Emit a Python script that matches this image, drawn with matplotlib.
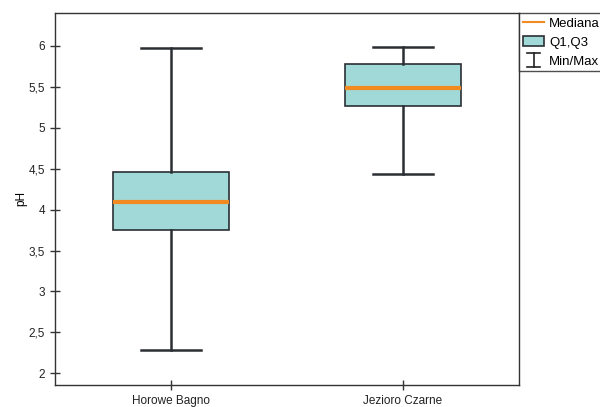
import matplotlib
matplotlib.use("Agg")
import matplotlib.pyplot as plt
from matplotlib.lines import Line2D
from matplotlib.patches import Patch
from matplotlib.legend_handler import HandlerBase
from matplotlib.ticker import FuncFormatter

plt.rcParams["font.family"] = ["Liberation Sans", "DejaVu Sans"]

# per-site pH summaries
sites = ["Horowe Bagno", "Jezioro Czarne"]
ph_min = [2.29, 4.43]
ph_q1 = [3.75, 5.27]
ph_median = [4.09, 5.49]
ph_q3 = [4.46, 5.78]
ph_max = [5.97, 5.99]

yticks = [2, 2.5, 3, 3.5, 4, 4.5, 5, 5.5, 6]

BOX_FILL = "#a0d9d7"
EDGE = "#2b2f33"
ORANGE = "#f28a22"


class MinMaxHandler(HandlerBase):
    """Legend key: vertical bar with a cap at each end."""

    def create_artists(self, legend, orig_handle, xdescent, ydescent,
                       width, height, fontsize, trans):
        cx = width / 2 - xdescent
        y0, y1 = -ydescent - 1, height - ydescent + 1
        half = width * 0.3
        kw = dict(color="#222222", linewidth=1.2, transform=trans)
        return [Line2D([cx, cx], [y0, y1], **kw),
                Line2D([cx - half, cx + half], [y0, y0], **kw),
                Line2D([cx - half, cx + half], [y1, y1], **kw)]


fig = plt.figure(figsize=(6.0, 4.07), dpi=100)
ax = fig.add_axes([0.0917, 0.054, 0.773, 0.915])

stats = []
for i, name in enumerate(sites):
    stats.append({
        "label": name,
        "whislo": ph_min[i], "q1": ph_q1[i], "med": ph_median[i],
        "q3": ph_q3[i], "whishi": ph_max[i], "fliers": [],
    })

ax.bxp(stats, positions=[1, 2], widths=0.5, patch_artist=True, showfliers=False,
       boxprops=dict(facecolor=BOX_FILL, edgecolor=EDGE, linewidth=1.2),
       medianprops=dict(color=ORANGE, linewidth=3),
       whiskerprops=dict(color=EDGE, linewidth=1.8),
       capprops=dict(color=EDGE, linewidth=1.8),
       capwidths=0.26)

ax.set_xlim(0.5, 2.5)
ax.set_ylim(1.857, 6.407)
ax.set_yticks(yticks)
ax.yaxis.set_major_formatter(FuncFormatter(lambda v, p: f"{v:g}".replace(".", ",")))
ax.set_ylabel("pH", fontsize=8.5, labelpad=1)
ax.tick_params(axis="both", direction="inout", length=7, width=1, labelsize=8.5,
               color="#333333", labelcolor="#222222")
for sp in ax.spines.values():
    sp.set_color("#333333")
    sp.set_linewidth(1)

minmax = object()
handles = [
    Line2D([], [], color=ORANGE, linewidth=1.5),
    Patch(facecolor=BOX_FILL, edgecolor=EDGE, linewidth=1.2),
    minmax,
]
leg = fig.legend(handles, ["Mediana", "Q1,Q3", "Min/Max"],
                 handler_map={minmax: MinMaxHandler()},
                 loc="upper left", bbox_to_anchor=(0.865, 0.969),
                 borderaxespad=0, fancybox=False, fontsize=9.5, handlelength=1.6,
                 handleheight=0.9, handletextpad=0.4, labelspacing=0.45,
                 borderpad=0.3)
leg.get_frame().set_edgecolor("#222222")
leg.get_frame().set_linewidth(1)

fig.savefig("out.png", dpi=100)
